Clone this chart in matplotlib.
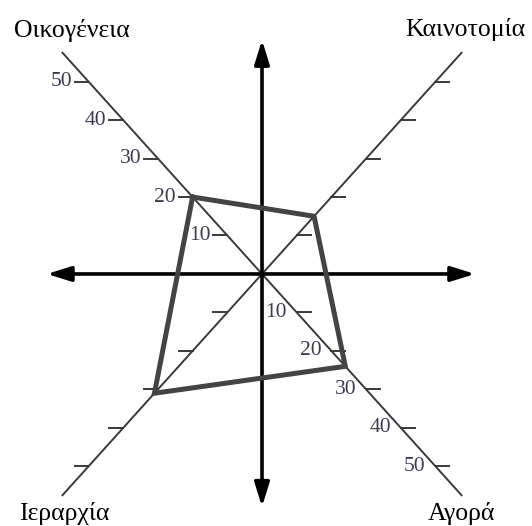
import numpy as np
import matplotlib
matplotlib.use("Agg")
import matplotlib.pyplot as plt

# four dimensions on the diagonals (upper-left, upper-right, lower-right, lower-left)
categories = ['Οικογένεια', 'Καινοτομία', 'Αγορά', 'Ιεραρχία']
values = [20, 15, 24, 31]
tick_values = [10, 20, 30, 40, 50]
labelled = ['Οικογένεια', 'Αγορά']   # only these axes carry numbers

# diagonal direction of each category
dirs = {'Οικογένεια': (-1, 1), 'Καινοτομία': (1, 1),
        'Αγορά': (1, -1), 'Ιεραρχία': (-1, -1)}

plt.rcParams['font.family'] = ['Liberation Serif', 'DejaVu Serif']

fig = plt.figure(figsize=(5.32, 5.26), dpi=100)
ax = fig.add_axes([0, 0, 1, 1])
ax.set_xlim(-75.5, 77.8)
ax.set_ylim(-65.5, 71.2)
ax.axis('off')

r_end = 57.5
tick_len = 4.0
for cat in categories:
    dx, dy = dirs[cat]
    ax.plot([0, dx * r_end], [0, dy * r_end], color='#3a3a3a', lw=1.4, zorder=2)
    for t in tick_values:
        ax.plot([dx * t, dx * t + dx * tick_len], [dy * t, dy * t],
                color='#3a3a3a', lw=1.4, zorder=2)
        if cat in labelled:
            if dx < 0:
                tx = dx * t - tick_len - 0.8
            else:
                tx = dx * t - 2.9
            ax.text(tx, dy * t, str(t), ha='right', va='center',
                    fontsize=15.5, color='#3c3c50', zorder=3)

# axes arrows
arrow = dict(arrowstyle='<|-|>,head_length=0.9,head_width=0.28', lw=2.6,
             color='black', mutation_scale=16, shrinkA=0, shrinkB=0)
ax.annotate('', xy=(61.4, 0), xytext=(-62, 0), arrowprops=arrow, zorder=4)
ax.annotate('', xy=(0, 60.8), xytext=(0, -60.5), arrowprops=arrow, zorder=4)

# profile polygon
px = [dirs[c][0] * v for c, v in zip(categories, values)]
py = [dirs[c][1] * v for c, v in zip(categories, values)]
px.append(px[0])
py.append(py[0])
ax.plot(px, py, color='#444444', lw=3.6, solid_joinstyle='miter', zorder=5)

# category names
name_pos = {'Οικογένεια': (-54.9, 63.4), 'Καινοτομία': (58.5, 63.6),
            'Αγορά': (57.6, -62.3), 'Ιεραρχία': (-57.0, -62.3)}
for cat in categories:
    x, y = name_pos[cat]
    ax.text(x, y, cat, ha='center', va='center', fontsize=18.5, color='black')

fig.savefig('out.png', dpi=100)
